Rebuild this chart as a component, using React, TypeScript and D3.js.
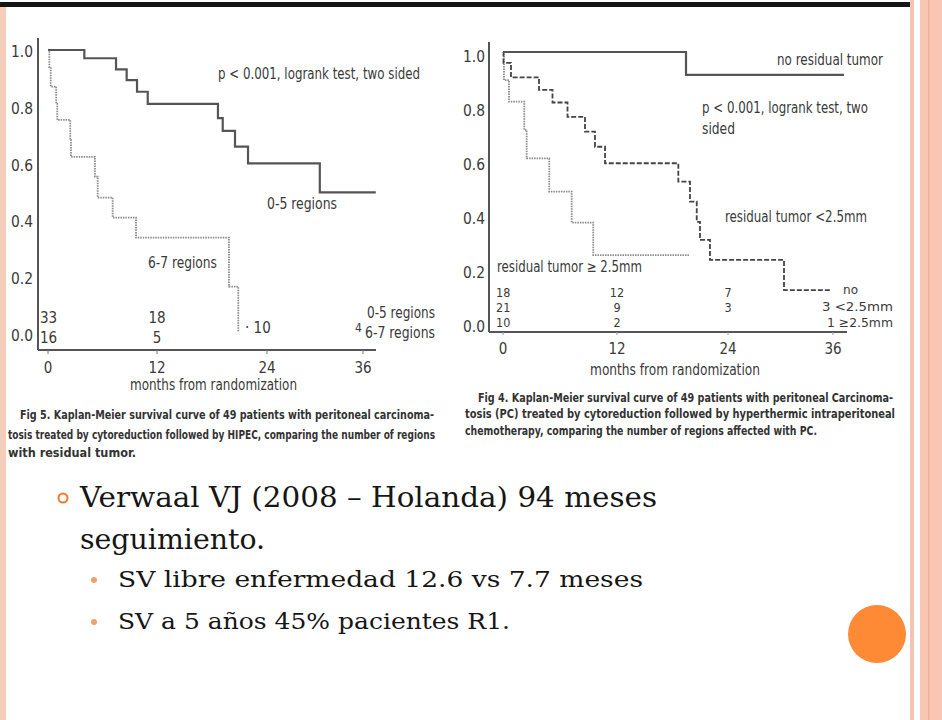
import React from "react";
import * as d3 from "d3";

// ---------- data ----------
const MONTH_TICKS = [0, 12, 24, 36];
const SURV_TICKS = [0, 0.2, 0.4, 0.6, 0.8, 1.0];

// Fig 5 (left): number of regions
const fig5Times05 = [0, 4.0, 7.49, 8.66, 9.8, 10.98, 18.65, 19.17, 20.51, 21.93, 30.6];
const fig5Surv05 = [1.0, 0.971, 0.932, 0.894, 0.853, 0.81, 0.76, 0.715, 0.66, 0.601, 0.499];
const fig5End05 = 37.6;
const fig5Times67 = [0, 0.15, 0.3, 0.9, 1.02, 2.45, 2.53, 5.17, 5.47, 7.12, 9.69, 19.85, 20.87];
const fig5Surv67 = [1.0, 0.94, 0.871, 0.81, 0.754, 0.683, 0.624, 0.554, 0.48, 0.41, 0.339, 0.167, 0.008];
const fig5End67 = 20.87;
const fig5RiskTimes = [0, 12];
const fig5Risk05 = ["33", "18"];
const fig5Risk67 = ["16", "5"];

// Fig 4 (right): residual tumor
const fig4TimesNo = [0, 19.46];
const fig4SurvNo = [1.0, 0.915];
const fig4EndNo = 37.26;
const fig4TimesLt = [0, 0.05, 0.84, 3.79, 5.21, 6.79, 8.63, 9.68, 10.74, 18.63, 19.89, 20.62, 20.97, 22.05, 30.4];
const fig4SurvLt = [1.0, 0.96, 0.906, 0.86, 0.813, 0.76, 0.705, 0.649, 0.588, 0.52, 0.446, 0.371, 0.304, 0.23, 0.118];
const fig4EndLt = 35.66;
const fig4TimesGe = [0, 0.1, 0.63, 2.24, 2.49, 4.87, 7.23, 9.5];
const fig4SurvGe = [1.0, 0.896, 0.816, 0.711, 0.606, 0.483, 0.368, 0.248];
const fig4EndGe = 19.82;
const fig4RiskTimes = [0, 12, 24];
const fig4RiskNo = ["18", "12", "7"];
const fig4RiskLt = ["21", "9", "3"];
const fig4RiskGe = ["10", "2", ""];

const FIG5_CAPTION = [
  "Fig 5.   Kaplan-Meier survival curve of 49 patients with peritoneal carcinoma-",
  "tosis treated by cytoreduction followed by HIPEC, comparing the number of regions",
  "with residual tumor.",
];
const FIG4_CAPTION = [
  "Fig 4.   Kaplan-Meier survival curve of 49 patients with peritoneal Carcinoma-",
  "tosis (PC) treated by cytoreduction followed by hyperthermic intraperitoneal",
  "chemotherapy, comparing the number of regions affected with PC.",
];

const BULLET_MAIN = ["Verwaal VJ (2008 – Holanda) 94 meses", "seguimiento."];
const BULLET_SUB = ["SV libre enfermedad 12.6 vs 7.7 meses", "SV a 5 años 45% pacientes R1."];

// ---------- style ----------
const NARROW = "'Liberation Sans Narrow','DejaVu Sans Condensed','Arial Narrow',sans-serif";
const SERIF = "'DejaVu Serif','Liberation Serif',serif";
const TXT = "#3a3a3a";

function stepPath(
  times: number[],
  surv: number[],
  end: number,
  x: d3.ScaleLinear<number, number>,
  y: d3.ScaleLinear<number, number>
) {
  const pts: [number, number][] = times.map((t, i) => [t, surv[i]]);
  pts.push([end, surv[surv.length - 1]]);
  const line = d3
    .line<[number, number]>()
    .x((d) => x(d[0]))
    .y((d) => y(d[1]))
    .curve(d3.curveStepAfter);
  return line(pts) || "";
}

function Label(props: {
  x: number;
  y: number;
  w?: number;
  size?: number;
  anchor?: string;
  children: React.ReactNode;
}) {
  const { x, y, w, size = 14, anchor = "start", children } = props;
  return (
    <text
      x={x}
      y={y}
      fontSize={size}
      textAnchor={anchor}
      textLength={w}
      lengthAdjust={w ? "spacingAndGlyphs" : undefined}
    >
      {children}
    </text>
  );
}

export default function App() {
  // left chart scales
  const x5 = d3.scaleLinear().domain([0, 12, 24, 36]).range([48, 157, 267, 363]);
  const y5 = d3.scaleLinear().domain([0, 1]).range([334, 50]);
  // right chart scales
  const x4 = d3.scaleLinear().domain([0, 12, 24, 36]).range([503, 617, 728, 833]);
  const y4 = d3.scaleLinear().domain([0, 1]).range([322, 52]);

  const riskRowsY = [297, 312, 327];

  return (
    <svg
      width={942}
      height={720}
      style={{ position: "absolute", left: 0, top: 0, background: "#fff" }}
    >
      <rect x={0} y={0} width={942} height={720} fill="#ffffff" />
      {/* slide frame */}
      <rect x={0} y={2} width={911} height={5} fill="#151515" />
      <rect x={0} y={7} width={6} height={713} fill="#f6cdbb" />
      <rect x={910} y={0} width={4} height={720} fill="#f3c3b3" />
      <rect x={920} y={0} width={22} height={720} fill="#f9c6b3" />
      <rect x={928} y={0} width={1.5} height={720} fill="#eeb198" />

      {/* ===== Left chart (Fig 5) ===== */}
      <g fontFamily={NARROW} fill={TXT}>
        <line x1={38} x2={38} y1={38} y2={350} stroke="#555" strokeWidth={2} />
        <line x1={38} x2={376} y1={350} y2={350} stroke="#555" strokeWidth={2} />
        {MONTH_TICKS.map((t) => (
          <g key={"x5" + t}>
            <line x1={x5(t)} x2={x5(t)} y1={350} y2={354} stroke="#777" strokeWidth={1} />
            <text x={x5(t)} y={373} textAnchor="middle" fontSize={15}>
              {t}
            </text>
          </g>
        ))}
        {SURV_TICKS.map((v) => (
          <text key={"y5" + v} x={33} y={y5(v) + 7} textAnchor="end" fontSize={15} textLength={22} lengthAdjust="spacingAndGlyphs">
            {v.toFixed(1)}
          </text>
        ))}
        <Label x={130} y={390} w={167} size={15}>
          months from randomization
        </Label>
        <path
          d={stepPath(fig5Times67, fig5Surv67, fig5End67, x5, y5)}
          fill="none"
          stroke="#8a8a8a"
          strokeWidth={1.8}
          strokeDasharray="1.5,1"
        />
        <path
          d={stepPath(fig5Times05, fig5Surv05, fig5End05, x5, y5)}
          fill="none"
          stroke="#555"
          strokeWidth={2.2}
        />
        <Label x={218} y={79} w={202} size={16}>
          p &lt; 0.001, logrank test, two sided
        </Label>
        <Label x={267} y={209} w={70} size={16}>
          0-5 regions
        </Label>
        <Label x={148} y={268} w={69} size={16}>
          6-7 regions
        </Label>
        {fig5RiskTimes.map((t, i) => (
          <g key={"r5" + t}>
            <text x={i === 0 ? 40 : x5(t)} y={323} textAnchor={i === 0 ? "start" : "middle"} fontSize={15}>
              {fig5Risk05[i]}
            </text>
            <text x={i === 0 ? 40 : x5(t)} y={343} textAnchor={i === 0 ? "start" : "middle"} fontSize={15}>
              {fig5Risk67[i]}
            </text>
          </g>
        ))}
        <Label x={245} y={333} size={15}>
          · 10
        </Label>
        <Label x={355} y={332} size={12}>
          4
        </Label>
        <Label x={367} y={318} w={68} size={15}>
          0-5 regions
        </Label>
        <Label x={365} y={338} w={70} size={15}>
          6-7 regions
        </Label>
      </g>

      {/* ===== Right chart (Fig 4) ===== */}
      <g fontFamily={NARROW} fill={TXT}>
        <line x1={489} x2={489} y1={42} y2={332} stroke="#555" strokeWidth={2} />
        <line x1={489} x2={847} y1={332} y2={332} stroke="#555" strokeWidth={2} />
        {MONTH_TICKS.map((t) => (
          <g key={"x4" + t}>
            <line x1={x4(t)} x2={x4(t)} y1={332} y2={335} stroke="#999" strokeWidth={1} />
            <text x={x4(t)} y={354} textAnchor="middle" fontSize={15}>
              {t}
            </text>
          </g>
        ))}
        {SURV_TICKS.map((v) => (
          <text key={"y4" + v} x={485} y={y4(v) + 10} textAnchor="end" fontSize={15} textLength={22} lengthAdjust="spacingAndGlyphs">
            {v.toFixed(1)}
          </text>
        ))}
        <Label x={590} y={375} w={170} size={15}>
          months from randomization
        </Label>
        <path
          d={stepPath(fig4TimesGe, fig4SurvGe, fig4EndGe, x4, y4)}
          fill="none"
          stroke="#8a8a8a"
          strokeWidth={1.8}
          strokeDasharray="1.5,1"
        />
        <path
          d={stepPath(fig4TimesLt, fig4SurvLt, fig4EndLt, x4, y4)}
          fill="none"
          stroke="#444"
          strokeWidth={1.8}
          strokeDasharray="5,2"
        />
        <path
          d={stepPath(fig4TimesNo, fig4SurvNo, fig4EndNo, x4, y4)}
          fill="none"
          stroke="#555"
          strokeWidth={2.2}
        />
        <Label x={777} y={65} w={106} size={15}>
          no residual tumor
        </Label>
        <Label x={702} y={113} w={166} size={15}>
          p &lt; 0.001, logrank test, two
        </Label>
        <Label x={702} y={134} w={33} size={15}>
          sided
        </Label>
        <Label x={725} y={222} w={142} size={15}>
          residual tumor &lt;2.5mm
        </Label>
        <Label x={497} y={272} w={145} size={15}>
          residual tumor ≥ 2.5mm
        </Label>
        {fig4RiskTimes.map((t, i) => (
          <g key={"r4" + t} fontSize={12.5}>
            <text x={i === 0 ? 496 : x4(t)} y={riskRowsY[0]} textAnchor={i === 0 ? "start" : "middle"}>
              {fig4RiskNo[i]}
            </text>
            <text x={i === 0 ? 496 : x4(t)} y={riskRowsY[1]} textAnchor={i === 0 ? "start" : "middle"}>
              {fig4RiskLt[i]}
            </text>
            <text x={i === 0 ? 496 : x4(t)} y={riskRowsY[2]} textAnchor={i === 0 ? "start" : "middle"}>
              {fig4RiskGe[i]}
            </text>
          </g>
        ))}
        <Label x={843} y={294} w={15} size={13}>
          no
        </Label>
        <Label x={822} y={311} w={71} size={13}>
          3 &lt;2.5mm
        </Label>
        <Label x={827} y={327} w={66} size={13}>
          1 ≥2.5mm
        </Label>
      </g>

      {/* captions */}
      <g fontFamily={NARROW} fontWeight="bold" fill="#333" fontSize={11.5}>
        <text x={20} y={419} textLength={414} lengthAdjust="spacingAndGlyphs">
          {FIG5_CAPTION[0]}
        </text>
        <text x={8} y={439} textLength={427} lengthAdjust="spacingAndGlyphs">
          {FIG5_CAPTION[1]}
        </text>
        <text x={8} y={457} textLength={128} lengthAdjust="spacingAndGlyphs">
          {FIG5_CAPTION[2]}
        </text>
        <text x={478} y={402} textLength={415} lengthAdjust="spacingAndGlyphs">
          {FIG4_CAPTION[0]}
        </text>
        <text x={465} y={418} textLength={430} lengthAdjust="spacingAndGlyphs">
          {FIG4_CAPTION[1]}
        </text>
        <text x={465} y={435} textLength={352} lengthAdjust="spacingAndGlyphs">
          {FIG4_CAPTION[2]}
        </text>
      </g>

      {/* bullets */}
      <circle cx={63} cy={498} r={4.5} fill="none" stroke="#ea7a2c" strokeWidth={2} />
      <g fontFamily={SERIF} fill="#161616">
        <text x={80} y={507} fontSize={27} textLength={577} lengthAdjust="spacingAndGlyphs">
          {BULLET_MAIN[0]}
        </text>
        <text x={80} y={549} fontSize={27} textLength={185} lengthAdjust="spacingAndGlyphs">
          {BULLET_MAIN[1]}
        </text>
        <text x={118} y={587} fontSize={22} textLength={525} lengthAdjust="spacingAndGlyphs">
          {BULLET_SUB[0]}
        </text>
        <text x={118} y={629} fontSize={22} textLength={392} lengthAdjust="spacingAndGlyphs">
          {BULLET_SUB[1]}
        </text>
      </g>
      <circle cx={94} cy={580} r={3} fill="#f0a070" />
      <circle cx={94} cy={622} r={3} fill="#f0a070" />

      {/* decorative orange circle */}
      <circle cx={877} cy={634} r={29} fill="#ff8a35" />
    </svg>
  );
}
